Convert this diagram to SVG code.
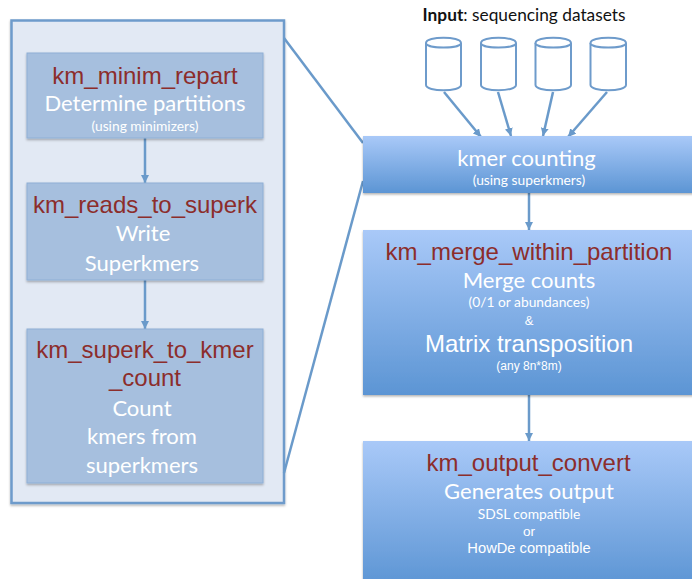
<svg xmlns="http://www.w3.org/2000/svg" width="692" height="579" viewBox="0 0 692 579">
<style>
text{text-anchor:middle}
.t{font-family:"Liberation Sans",Arial,sans-serif;fill:#8c2d2b;font-size:24px}
.l{font-family:Lato,"Open Sans",sans-serif;fill:#fff;font-size:22px}
.s{font-family:Lato,"Open Sans",sans-serif;fill:#fff;font-size:13.800px}
.h{font-family:"Liberation Sans",Arial,sans-serif;fill:#fff}
.inner{fill:#a6bfde;stroke:#8fafd6;stroke-width:1;filter:url(#sh)}
.grad{fill:url(#g);filter:url(#sh)}
.cyl{fill:#fff;stroke:#6e9bcb;stroke-width:2}
.a{stroke:#6a9aca;stroke-width:2.500;fill:none;marker-end:url(#m)}
.z{stroke:#6a9aca;stroke-width:2.500;fill:none}
</style>
<defs>
<linearGradient id="g" x1="0" y1="0" x2="0" y2="1"><stop offset="0" stop-color="#a9c9f8"/><stop offset="1" stop-color="#5c95d4"/></linearGradient>
<filter id="sh" x="-5%" y="-5%" width="110%" height="112%"><feDropShadow dx="0" dy="1.500" stdDeviation="1" flood-color="#000" flood-opacity="0.3"/></filter>
<marker id="m" markerUnits="userSpaceOnUse" markerWidth="10" markerHeight="8" refX="8" refY="4" orient="auto"><path d="M0 0L8 4L0 8Z" fill="#6a9aca"/></marker>
</defs>
<g id="panel"><rect x="11.500" y="20.500" width="272.500" height="482.500" fill="#e2e9f4" stroke="#6e9bcb" stroke-width="2.500" filter="url(#sh)"/></g>
<g id="connectors">
<path class="z" d="M284 38L363 143"/>
<path class="z" d="M284 473L363 181"/>
<path class="a" d="M145 138V183"/>
<path class="a" d="M145 280V329"/>
<path class="a" d="M444 92L481 137"/>
<path class="a" d="M498 92L511 136"/>
<path class="a" d="M553 92L543 136"/>
<path class="a" d="M607 92L568 137"/>
<path class="a" d="M529 193V230"/>
<path class="a" d="M529 395V441"/>
</g>
<g id="km_minim_repart"><rect class="inner" x="27" y="53" width="236" height="85"/>
<text class="t" x="145" y="84">km_minim_repart</text>
<text class="l" x="145" y="111">Determine partitions</text>
<text class="s" x="145" y="131">(using minimizers)</text></g>
<g id="km_reads_to_superk"><rect class="inner" x="27" y="183" width="236" height="97"/>
<text class="t" x="145" y="213">km_reads_to_superk</text>
<text class="l" x="143" y="241">Write</text>
<text class="l" x="142" y="271">Superkmers</text></g>
<g id="km_superk_to_kmer_count"><rect class="inner" x="27" y="329" width="236" height="154"/>
<text class="t" x="145" y="358">km_superk_to_kmer</text>
<text class="t" x="145" y="386">_count</text>
<text class="l" x="142" y="416">Count</text>
<text class="l" x="142" y="444">kmers from</text>
<text class="l" x="142" y="473">superkmers</text></g>
<g id="input-label"><text x="524" y="21" font-size="17.300" font-family="Lato,'Open Sans',sans-serif" fill="#111"><tspan font-weight="700">Input</tspan>: sequencing datasets</text></g>
<g id="db1"><path class="cyl" d="M426 43C426 36 461 36 461 43V85C461 92 426 92 426 85Z"/><path class="cyl" d="M426 43C426 49 461 49 461 43" fill="none"/></g>
<g id="db2"><path class="cyl" d="M481 43C481 36 516 36 516 43V85C516 92 481 92 481 85Z"/><path class="cyl" d="M481 43C481 49 516 49 516 43" fill="none"/></g>
<g id="db3"><path class="cyl" d="M535.500 43C535.500 36 571 36 571 43V85C571 92 535.500 92 535.500 85Z"/><path class="cyl" d="M535.500 43C535.500 49 571 49 571 43" fill="none"/></g>
<g id="db4"><path class="cyl" d="M590.500 43C590.500 36 626 36 626 43V85C626 92 590.500 92 590.500 85Z"/><path class="cyl" d="M590.500 43C590.500 49 626 49 626 43" fill="none"/></g>
<g id="kmer_counting"><rect class="grad" x="363" y="136" width="335" height="57"/>
<text class="l" x="526.500" y="166">kmer counting</text>
<text class="s" x="529" y="185">(using superkmers)</text></g>
<g id="km_merge_within_partition"><rect class="grad" x="363" y="230" width="335" height="165"/>
<text class="t" x="529" y="260">km_merge_within_partition</text>
<text class="l" x="529" y="288">Merge counts</text>
<text class="s" x="529" y="307">(0/1 or abundances)</text>
<text class="h" x="529" y="325" font-size="13">&amp;</text>
<text class="h" x="529" y="352" font-size="24">Matrix transposition</text>
<text class="h" x="529" y="370" font-size="12">(any 8n*8m)</text></g>
<g id="km_output_convert"><rect class="grad" x="363" y="441" width="335" height="145"/>
<text class="t" x="528.500" y="471">km_output_convert</text>
<text class="l" x="529" y="499">Generates output</text>
<text class="s" x="529" y="519">SDSL compatible</text>
<text class="h" x="529" y="536" font-size="13.500">or</text>
<text class="h" x="529" y="553" font-size="14.700">HowDe compatible</text></g>
</svg>
